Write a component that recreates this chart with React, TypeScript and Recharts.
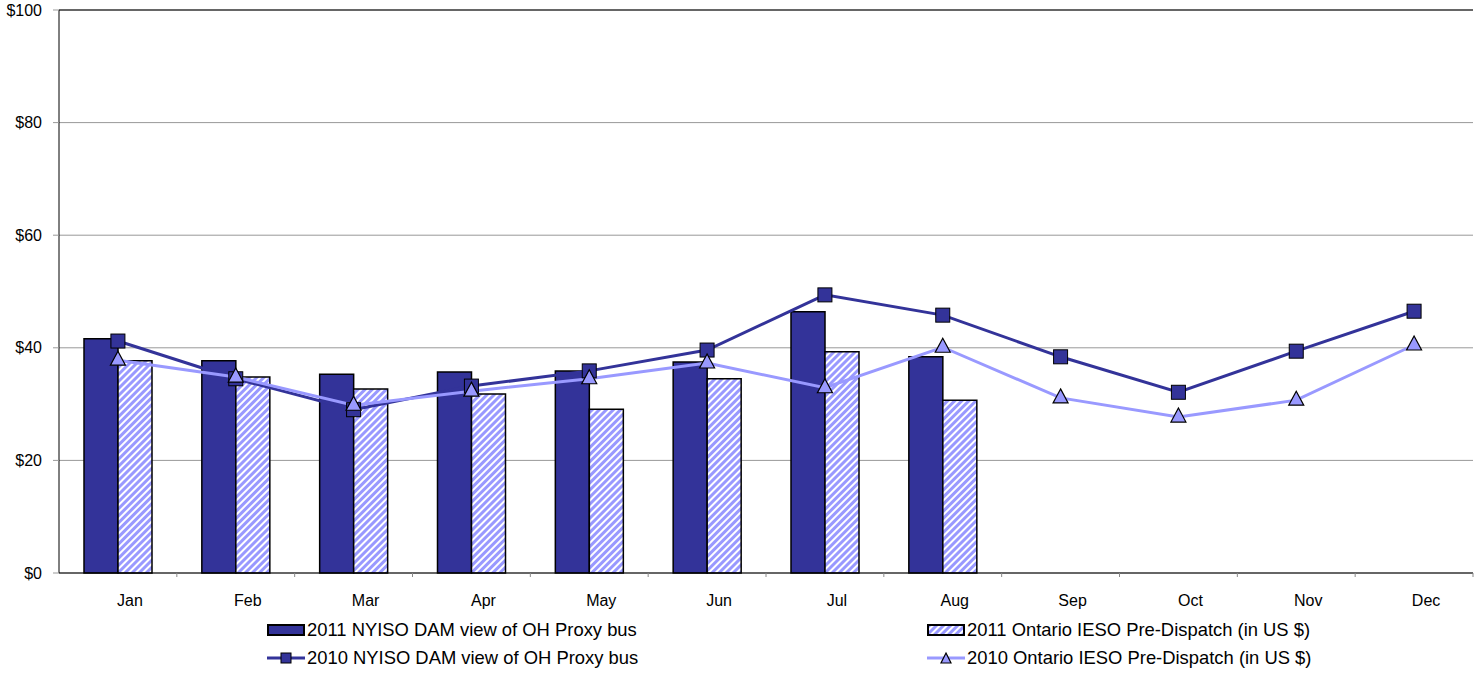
import React from 'react';
import { ComposedChart, Bar, Line, XAxis, YAxis, CartesianGrid, Legend, ReferenceLine } from 'recharts';

const months = ['Jan', 'Feb', 'Mar', 'Apr', 'May', 'Jun', 'Jul', 'Aug', 'Sep', 'Oct', 'Nov', 'Dec'];
const nyiso2011: (number | null)[] = [41.6, 37.7, 35.3, 35.7, 35.9, 37.5, 46.4, 38.4, null, null, null, null];
const ieso2011: (number | null)[] = [37.7, 34.8, 32.7, 31.8, 29.1, 34.5, 39.3, 30.7, null, null, null, null];
const nyiso2010: number[] = [41.2, 34.5, 29.0, 33.2, 35.9, 39.6, 49.4, 45.8, 38.4, 32.1, 39.4, 46.5];
const ieso2010: number[] = [37.8, 34.8, 29.8, 32.3, 34.5, 37.3, 32.9, 40.1, 31.1, 27.7, 30.7, 40.5];
const yTicks = [0, 20, 40, 60, 80, 100];

const names = {
  b1: '2011 NYISO DAM view of OH Proxy bus',
  b2: '2011 Ontario IESO Pre-Dispatch (in US $)',
  l1: '2010 NYISO DAM view of OH Proxy bus',
  l2: '2010 Ontario IESO Pre-Dispatch (in US $)',
};

const data = months.map((m, i) => ({
  month: m,
  b1: nyiso2011[i],
  b2: ieso2011[i],
  l1: nyiso2010[i],
  l2: ieso2010[i],
}));

const DARK = '#333399';
const LIGHT = '#9999FF';
const FONT = 'Arial, "Liberation Sans", sans-serif';

const Square = (props: any) => {
  const { cx, cy } = props;
  if (cx == null || cy == null) return null;
  return <rect x={cx - 7} y={cy - 7} width={14} height={14} fill={DARK} stroke="#000" strokeWidth={1} />;
};

const Tri = (props: any) => {
  const { cx, cy } = props;
  if (cx == null || cy == null) return null;
  return (
    <polygon
      points={`${cx},${cy - 9} ${cx + 7.5},${cy + 5} ${cx - 7.5},${cy + 5}`}
      fill={LIGHT}
      stroke="#000"
      strokeWidth={1.2}
    />
  );
};

const XTick = (props: any) => {
  const { x, y, payload } = props;
  const off = payload.offset || 0;
  return (
    <g>
      <line x1={x + off} x2={x + off} y1={y} y2={y + 4} stroke="#888" strokeWidth={1} />
      <text x={x + 12} y={y + 33} textAnchor="middle" fontSize={16} fontFamily={FONT} fill="#000">
        {payload.value}
      </text>
    </g>
  );
};

const LegendIcon = ({ kind }: { kind: string }) => {
  if (kind === 'b1')
    return (
      <svg width={38} height={14}>
        <rect x={1} y={2} width={36} height={10} fill={DARK} stroke="#000" strokeWidth={2} />
      </svg>
    );
  if (kind === 'b2')
    return (
      <svg width={38} height={14}>
        <rect x={1} y={2} width={36} height={10} fill="url(#hatchLegend)" stroke="#000" strokeWidth={2} />
      </svg>
    );
  if (kind === 'l1')
    return (
      <svg width={38} height={14}>
        <line x1={0} x2={38} y1={7} y2={7} stroke={DARK} strokeWidth={3} />
        <rect x={14} y={2} width={10} height={10} fill={DARK} stroke="#000" strokeWidth={1} />
      </svg>
    );
  return (
    <svg width={38} height={14}>
      <line x1={0} x2={38} y1={7} y2={7} stroke={LIGHT} strokeWidth={3} />
      <polygon points="19,2 24,12 14,12" fill={LIGHT} stroke="#000" strokeWidth={1.2} />
    </svg>
  );
};

const LegendContent = () => {
  const item = (k: string) => (
    <div style={{ display: 'flex', alignItems: 'center', height: 28 }}>
      <LegendIcon kind={k} />
      <span style={{ marginLeft: 2, fontSize: 18.4, fontFamily: FONT, color: '#000', whiteSpace: 'nowrap' }}>
        {(names as any)[k]}
      </span>
    </div>
  );
  return (
    <div style={{ position: 'relative', width: 1481, height: 56 }}>
      <div style={{ position: 'absolute', left: 267, top: -1 }}>
        {item('b1')}
        {item('l1')}
      </div>
      <div style={{ position: 'absolute', left: 927, top: -1 }}>
        {item('b2')}
        {item('l2')}
      </div>
    </div>
  );
};

export default function App() {
  return (
    <div style={{ position: 'absolute', left: 0, top: 0, background: '#fff' }}>
      <svg width={0} height={0} style={{ position: 'absolute' }}>
        <defs>
          <pattern id="hatchLegend" patternUnits="userSpaceOnUse" width={5} height={5} patternTransform="rotate(45)">
            <rect width={5} height={5} fill={LIGHT} />
            <rect width={2} height={5} fill="#fff" />
          </pattern>
        </defs>
      </svg>
      <ComposedChart
        width={1481}
        height={679}
        data={data}
        margin={{ top: 10, right: 8, bottom: 6, left: 0 }}
        barGap={0}
      >
        <defs>
          <pattern id="hatch" patternUnits="userSpaceOnUse" width={5} height={5} patternTransform="rotate(45)">
            <rect width={5} height={5} fill={LIGHT} />
            <rect width={2} height={5} fill="#fff" />
          </pattern>
        </defs>
        <CartesianGrid vertical={false} stroke="#999" strokeWidth={1} />
        <XAxis
          dataKey="month"
          height={44}
          axisLine={{ stroke: '#000', strokeWidth: 1 }}
          tickLine={false}
          tickSize={0}
          tickMargin={0}
          tick={<XTick />}
          interval={0}
        />
        <YAxis
          width={59}
          domain={[0, 100]}
          ticks={yTicks}
          tickFormatter={(v: number) => `$${v}`}
          axisLine={{ stroke: '#000', strokeWidth: 1 }}
          tickLine={{ stroke: '#999', strokeWidth: 1 }}
          tickSize={6}
          tickMargin={11}
          tick={{ fontSize: 16, fontFamily: FONT, fill: '#000' }}
          interval={0}
        />
        <YAxis
          yAxisId="right"
          orientation="right"
          width={0}
          domain={[0, 100]}
          tick={false}
          tickLine={false}
          axisLine={{ stroke: '#999', strokeWidth: 1 }}
        />
        <ReferenceLine y={100} stroke="#000" strokeWidth={1} />
        <Bar dataKey="b1" name={names.b1} fill={DARK} stroke="#000" strokeWidth={1.5} barSize={34} isAnimationActive={false} />
        <Bar dataKey="b2" name={names.b2} fill="url(#hatch)" stroke="#000" strokeWidth={1.5} barSize={34} isAnimationActive={false} />
        <Line
          dataKey="l1"
          name={names.l1}
          stroke={DARK}
          strokeWidth={3}
          dot={<Square />}
          activeDot={false}
          isAnimationActive={false}
        />
        <Line
          dataKey="l2"
          name={names.l2}
          stroke={LIGHT}
          strokeWidth={3}
          dot={<Tri />}
          activeDot={false}
          isAnimationActive={false}
        />
        <Legend verticalAlign="bottom" content={<LegendContent />} wrapperStyle={{ left: 0, width: 1481 }} />
      </ComposedChart>
    </div>
  );
}
